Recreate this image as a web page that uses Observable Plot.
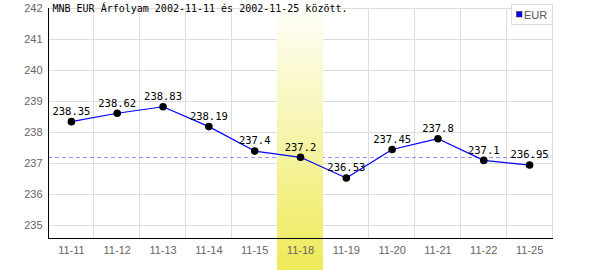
<!DOCTYPE html>
<html><head><meta charset="utf-8">
<script src="https://cdn.jsdelivr.net/npm/d3@7"></script>
<script src="https://cdn.jsdelivr.net/npm/@observablehq/plot@0.6"></script>
<style>body{margin:0;background:#fff} svg{display:block}</style>
</head><body><div id="chart"></div>
<script>
const dates = ["11-11","11-12","11-13","11-14","11-15","11-18","11-19","11-20","11-21","11-22","11-25"];
const rates = [238.35,238.62,238.83,238.19,237.4,237.2,236.53,237.45,237.8,237.1,236.95];
const highlightDate = "11-18";
const refRate = 237.2;
const yTicks = [235,236,237,238,239,240,241,242];
const title = "MNB EUR Árfolyam 2002-11-11 és 2002-11-25 között.";
const seriesName = "EUR";

const data = dates.map((d, i) => ({date: d, rate: rates[i]}));
const mono = "'DejaVu Sans Mono', monospace";
const sans = "'Liberation Sans', Arial, sans-serif";
const crisp = {shapeRendering: "crispEdges"};

const plot = Plot.plot({
  width: 600, height: 270,
  marginLeft: 48, marginRight: 48, marginTop: 8, marginBottom: 32,
  style: {background: "#fff", fontFamily: sans},
  x: {domain: dates, padding: 0, round: false, label: null},
  y: {domain: [234.58, 242], label: null},
  marks: [
    Plot.ruleY(yTicks, {stroke: "#dddddd", strokeWidth: 1, ...crisp}),
    Plot.cell(dates, {x: d => d, fill: "none", stroke: "#dddddd", strokeWidth: 1, ...crisp}),
    Plot.ruleY([refRate], {stroke: "#8f8fff", strokeDasharray: "4,3", ...crisp}),
    Plot.cell([highlightDate], {x: d => d, fill: "url(#hl)", ...crisp,
      render(index, scales, values, dims, context, next) {
        const g = next(index, scales, values, dims, context);
        d3.select(g).selectAll("rect").attr("y", 0).attr("height", dims.height);
        return g;
      }}),
    Plot.axisX({tickSize: 0, tickPadding: 8, fontSize: 11, fill: "#666666", label: null}),
    Plot.axisY({ticks: yTicks, tickSize: 0, tickPadding: 6, fontSize: 11, fill: "#666666", label: null}),
    Plot.frame({anchor: "left", stroke: "black", ...crisp}),
    Plot.frame({anchor: "bottom", stroke: "black", ...crisp}),
    Plot.line(data, {x: "date", y: "rate", stroke: "#0000ff", strokeWidth: 1.2}),
    Plot.dot(data, {x: "date", y: "rate", r: 3.8, fill: "black", stroke: "none"}),
    Plot.text(data, {x: "date", y: "rate", text: d => String(d.rate), dy: -10, fontFamily: mono, fontSize: 10.5, fill: "black"}),
    Plot.text([title], {frameAnchor: "top-left", dx: 4, dy: 0, textAnchor: "start", lineAnchor: "middle", fontFamily: mono, fontSize: 10, fill: "black"})
  ]
});

const svg = d3.select(plot);
const defs = svg.insert("defs", ":first-child");
const grad = defs.append("linearGradient").attr("id", "hl").attr("x1", 0).attr("y1", 0).attr("x2", 0).attr("y2", 1);
grad.append("stop").attr("offset", "0%").attr("stop-color", "#ffffff");
grad.append("stop").attr("offset", "100%").attr("stop-color", "#eeea58");

// legend box
const lg = svg.append("g").attr("text-anchor", "start");
lg.append("rect").attr("x", 511.5).attr("y", 4.5).attr("width", 41).attr("height", 20).attr("fill", "#fff").attr("stroke", "#dddddd");
lg.append("rect").attr("x", 516.5).attr("y", 11.5).attr("width", 5.5).attr("height", 5.5).attr("fill", "#0000ff").attr("stroke", "#333").attr("stroke-width", 0.5);
lg.append("text").attr("x", 524).attr("y", 18.5).attr("text-anchor", "start").attr("font-size", 11).attr("font-family", sans).attr("fill", "#555").text(seriesName);

document.getElementById("chart").append(plot);
</script>
</body></html>
